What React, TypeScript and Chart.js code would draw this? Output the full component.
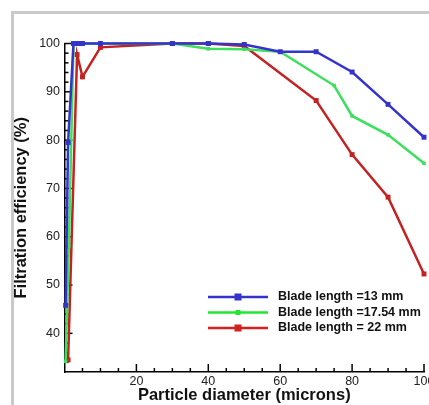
import React, { useEffect, useRef } from 'react';
import { Chart, registerables } from 'chart.js';

Chart.register(...registerables);

// ---- data ----
const blueX = [0.3, 1, 2.5, 3, 4, 5, 10, 30, 40, 50, 60, 70, 80, 90, 100];
const blueY = [45.8, 79.5, 100, 100, 100, 100, 100, 100, 100, 99.8, 98.3, 98.3, 94.1, 87.4, 80.6];

const greenX = [0.3, 1.2, 2.5, 3, 4, 5, 10, 30, 40, 50, 60, 75, 80, 90, 100];
const greenY = [34.2, 58, 100, 100, 100, 100, 100, 100, 98.9, 98.8, 98.3, 91.3, 85, 81.1, 75.2];

const redX = [1, 3.5, 5, 10, 30, 40, 50, 70, 80, 90, 100];
const redY = [34.5, 97.7, 93.1, 99.2, 100, 100, 99.5, 88.2, 77, 68.2, 52.3];

const seriesLabels = ['Blade length =13 mm', 'Blade length =17.54 mm', 'Blade length = 22 mm'];
const yTickValues = [40, 50, 60, 70, 80, 90, 100];
const xTickValues = [20, 40, 60, 80, 100];
const xTitle = 'Particle diameter (microns)';
const yTitle = 'Filtration efficiency (%)';

const FONT = '"Liberation Sans", Arial, Helvetica, sans-serif';
const COLORS = ['#3434cc', '#3ddf5c', '#c42222'];
const LEGEND_COLORS = ['#3434cc', '#22e632', '#d42020'];

const toPoints = (xs: number[], ys: number[]) => xs.map((x, i) => ({ x, y: ys[i] }));

const innerTicks = {
  id: 'innerTicks',
  beforeDatasetsDraw(chart: any) {
    const { ctx, chartArea, scales } = chart;
    const xs = scales.x;
    const ys = scales.y;
    ctx.save();
    ctx.strokeStyle = '#000';
    ctx.lineWidth = 1.5;
    for (let v = 34; v <= 100; v += 2) {
      const py = ys.getPixelForValue(v);
      const len = v % 10 === 0 ? 8 : 4;
      ctx.beginPath();
      ctx.moveTo(chartArea.left, py);
      ctx.lineTo(chartArea.left + len, py);
      ctx.stroke();
    }
    for (let v = 5; v <= 100; v += 5) {
      const px = xs.getPixelForValue(v);
      const len = v % 20 === 0 ? 8 : 4;
      ctx.beginPath();
      ctx.moveTo(px, chartArea.bottom);
      ctx.lineTo(px, chartArea.bottom - len);
      ctx.stroke();
    }
    ctx.restore();
  },
};

const innerLegend = {
  id: 'innerLegend',
  afterDraw(chart: any) {
    const { ctx } = chart;
    const x0 = 208;
    const x1 = 268;
    const tx = 278;
    const y0 = 297;
    const dy = 15.5;
    ctx.save();
    chart.data.datasets.forEach((ds: any, i: number) => {
      const y = y0 + i * dy;
      ctx.strokeStyle = LEGEND_COLORS[i];
      ctx.lineWidth = 2.5;
      ctx.beginPath();
      ctx.moveTo(x0, y);
      ctx.lineTo(x1, y);
      ctx.stroke();
      ctx.fillStyle = LEGEND_COLORS[i];
      const m = (x0 + x1) / 2;
      const s = i === 1 ? 5 : 7;
      ctx.fillRect(m - s / 2, y - s / 2, s, s);
      ctx.fillStyle = '#111';
      ctx.font = `bold 12.5px ${FONT}`;
      ctx.textBaseline = 'middle';
      ctx.textAlign = 'left';
      ctx.fillText(ds.label, tx, y);
    });
    ctx.restore();
  },
};

export default function App() {
  const ref = useRef<HTMLCanvasElement | null>(null);

  useEffect(() => {
    document.body.style.margin = '0';
    const canvas = ref.current;
    if (!canvas) return;
    const datasets = [
      { label: seriesLabels[0], data: toPoints(blueX, blueY) },
      { label: seriesLabels[1], data: toPoints(greenX, greenY) },
      { label: seriesLabels[2], data: toPoints(redX, redY) },
    ].map((d, i) => ({
      ...d,
      borderColor: COLORS[i],
      backgroundColor: COLORS[i],
      borderWidth: 2.5,
      pointStyle: 'rect' as const,
      pointRadius: i === 1 ? 2.5 : 3.5,
      pointBorderWidth: 0,
      tension: 0,
      clip: false as any,
    }));

    const chart = new Chart(canvas, {
      type: 'line',
      data: { datasets },
      plugins: [innerTicks, innerLegend],
      options: {
        animation: false,
        responsive: false,
        devicePixelRatio: 1,
        layout: { padding: { top: 43.5, right: 5, left: 0, bottom: 0 }, autoPadding: false },
        plugins: { legend: { display: false }, tooltip: { enabled: false } },
        scales: {
          x: {
            type: 'linear',
            min: 0,
            max: 100,
            afterFit: (s: any) => {
              s.height = 33;
              s.paddingLeft = 0;
              s.paddingRight = 0;
            },
            afterBuildTicks: (s: any) => { s.ticks = xTickValues.map((v) => ({ value: v })); },
            grid: { display: false, drawTicks: false },
            border: { display: true, color: '#000', width: 1.5 },
            ticks: { color: '#222', font: { family: FONT, size: 12.5 }, padding: 2, maxRotation: 0, autoSkip: false },
            title: {
              display: true,
              text: xTitle,
              color: '#111',
              font: { family: FONT, size: 16.5, weight: 'bold', lineHeight: 1 },
              padding: { top: 0, bottom: 1.5 },
            },
          },
          y: {
            type: 'linear',
            min: 32,
            max: 100,
            afterFit: (s: any) => {
              s.width = 64.5;
              s.paddingTop = 0;
              s.paddingBottom = 0;
            },
            afterBuildTicks: (s: any) => { s.ticks = yTickValues.map((v) => ({ value: v })); },
            grid: { display: false, drawTicks: false },
            border: { display: true, color: '#000', width: 1.5 },
            ticks: { color: '#222', font: { family: FONT, size: 12.5 }, padding: 4.5 },
            title: {
              display: true,
              text: yTitle,
              color: '#111',
              font: { family: FONT, size: 16.5, weight: 'bold', lineHeight: 1.2 },
              padding: { top: 11.5, bottom: 0 },
            },
          },
        },
      },
    });
    return () => chart.destroy();
  }, []);

  return (
    <div style={{ position: 'relative', width: 429, height: 405, overflow: 'hidden', background: '#fff' }}>
      <div
        style={{
          position: 'absolute',
          left: 11,
          top: 11,
          right: 0,
          bottom: 0,
          borderLeft: '3px solid #c9c9c9',
          borderTop: '3px solid #c9c9c9',
        }}
      />
      <canvas ref={ref} width={429} height={405} style={{ position: 'absolute', left: 0, top: 0 }} />
    </div>
  );
}
